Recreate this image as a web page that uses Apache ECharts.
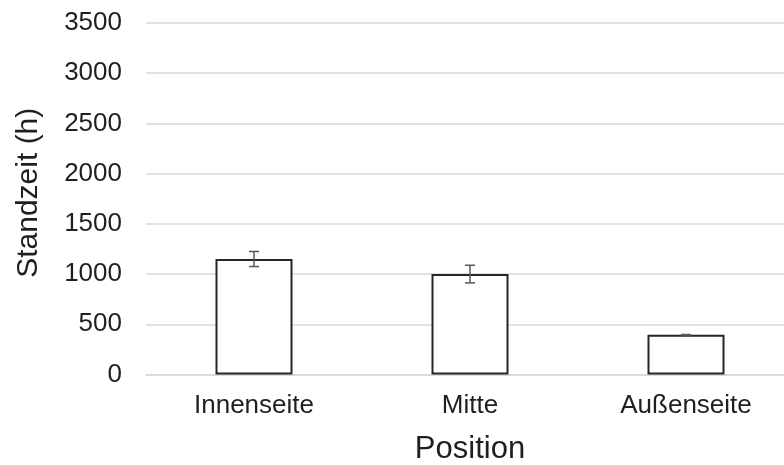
<!DOCTYPE html>
<html>
<head>
<meta charset="utf-8">
<script src="https://cdn.jsdelivr.net/npm/echarts@6/dist/echarts.min.js"></script>
<style>
  html, body { margin: 0; padding: 0; background: #fff; }
  #chart { width: 784px; height: 465px; }
</style>
</head>
<body>
<div id="chart"></div>
<script>
// Daten
const categories = ['Innenseite', 'Mitte', 'Außenseite']
const standzeit = [1150, 1000, 395]
const fehler = [75, 88, 3]
const yTicks = { min: 0, max: 3500, interval: 500 }

const chart = echarts.init(document.getElementById('chart'))

const textColor = '#1f1f1f'
const fontFamily = 'Liberation Sans, Arial, sans-serif'

const option = {
  animation: false,
  grid: { left: 146, right: -10, top: 23, bottom: 90.5, containLabel: false, outerBoundsMode: 'none' },
  xAxis: {
    type: 'category',
    data: categories,
    name: 'Position',
    nameLocation: 'middle',
    nameGap: 59,
    nameTextStyle: { fontSize: 31, color: textColor, fontFamily: fontFamily },
    axisLine: { lineStyle: { color: '#d9d9d9', width: 1.5 } },
    axisTick: { show: false },
    axisLabel: { fontSize: 26, color: textColor, fontFamily: fontFamily, margin: 18 }
  },
  yAxis: {
    type: 'value',
    min: yTicks.min,
    max: yTicks.max,
    interval: yTicks.interval,
    name: 'Standzeit (h)',
    nameLocation: 'middle',
    nameGap: 102,
    nameTextStyle: { fontSize: 30, color: textColor, fontFamily: fontFamily, padding: [0, 0, 0, 12] },
    axisLine: { show: false },
    axisTick: { show: false },
    axisLabel: {
      fontSize: 26, color: textColor, fontFamily: fontFamily, margin: 24,
      formatter: function (v) { return String(v) }
    },
    splitLine: { lineStyle: { color: '#d9d9d9', width: 1.5 } }
  },
  series: [
    {
      type: 'bar',
      data: standzeit,
      barWidth: 77,
      itemStyle: { color: '#ffffff', borderColor: '#262626', borderWidth: 2 }
    },
    {
      // Fehlerbalken
      type: 'custom',
      data: standzeit.map((v, i) => [i, v - fehler[i], v + fehler[i]]),
      renderItem: function (params, api) {
        const lo = api.coord([api.value(0), api.value(1)])
        const hi = api.coord([api.value(0), api.value(2)])
        const w = 5
        const style = { stroke: '#595959', lineWidth: 1.5 }
        return {
          type: 'group',
          children: [
            { type: 'line', shape: { x1: hi[0], y1: hi[1], x2: lo[0], y2: lo[1] }, style: style },
            { type: 'line', shape: { x1: hi[0] - w, y1: hi[1], x2: hi[0] + w, y2: hi[1] }, style: style },
            { type: 'line', shape: { x1: lo[0] - w, y1: lo[1], x2: lo[0] + w, y2: lo[1] }, style: style }
          ]
        }
      },
      z: 10
    }
  ]
}

chart.setOption(option)
</script>
</body>
</html>
